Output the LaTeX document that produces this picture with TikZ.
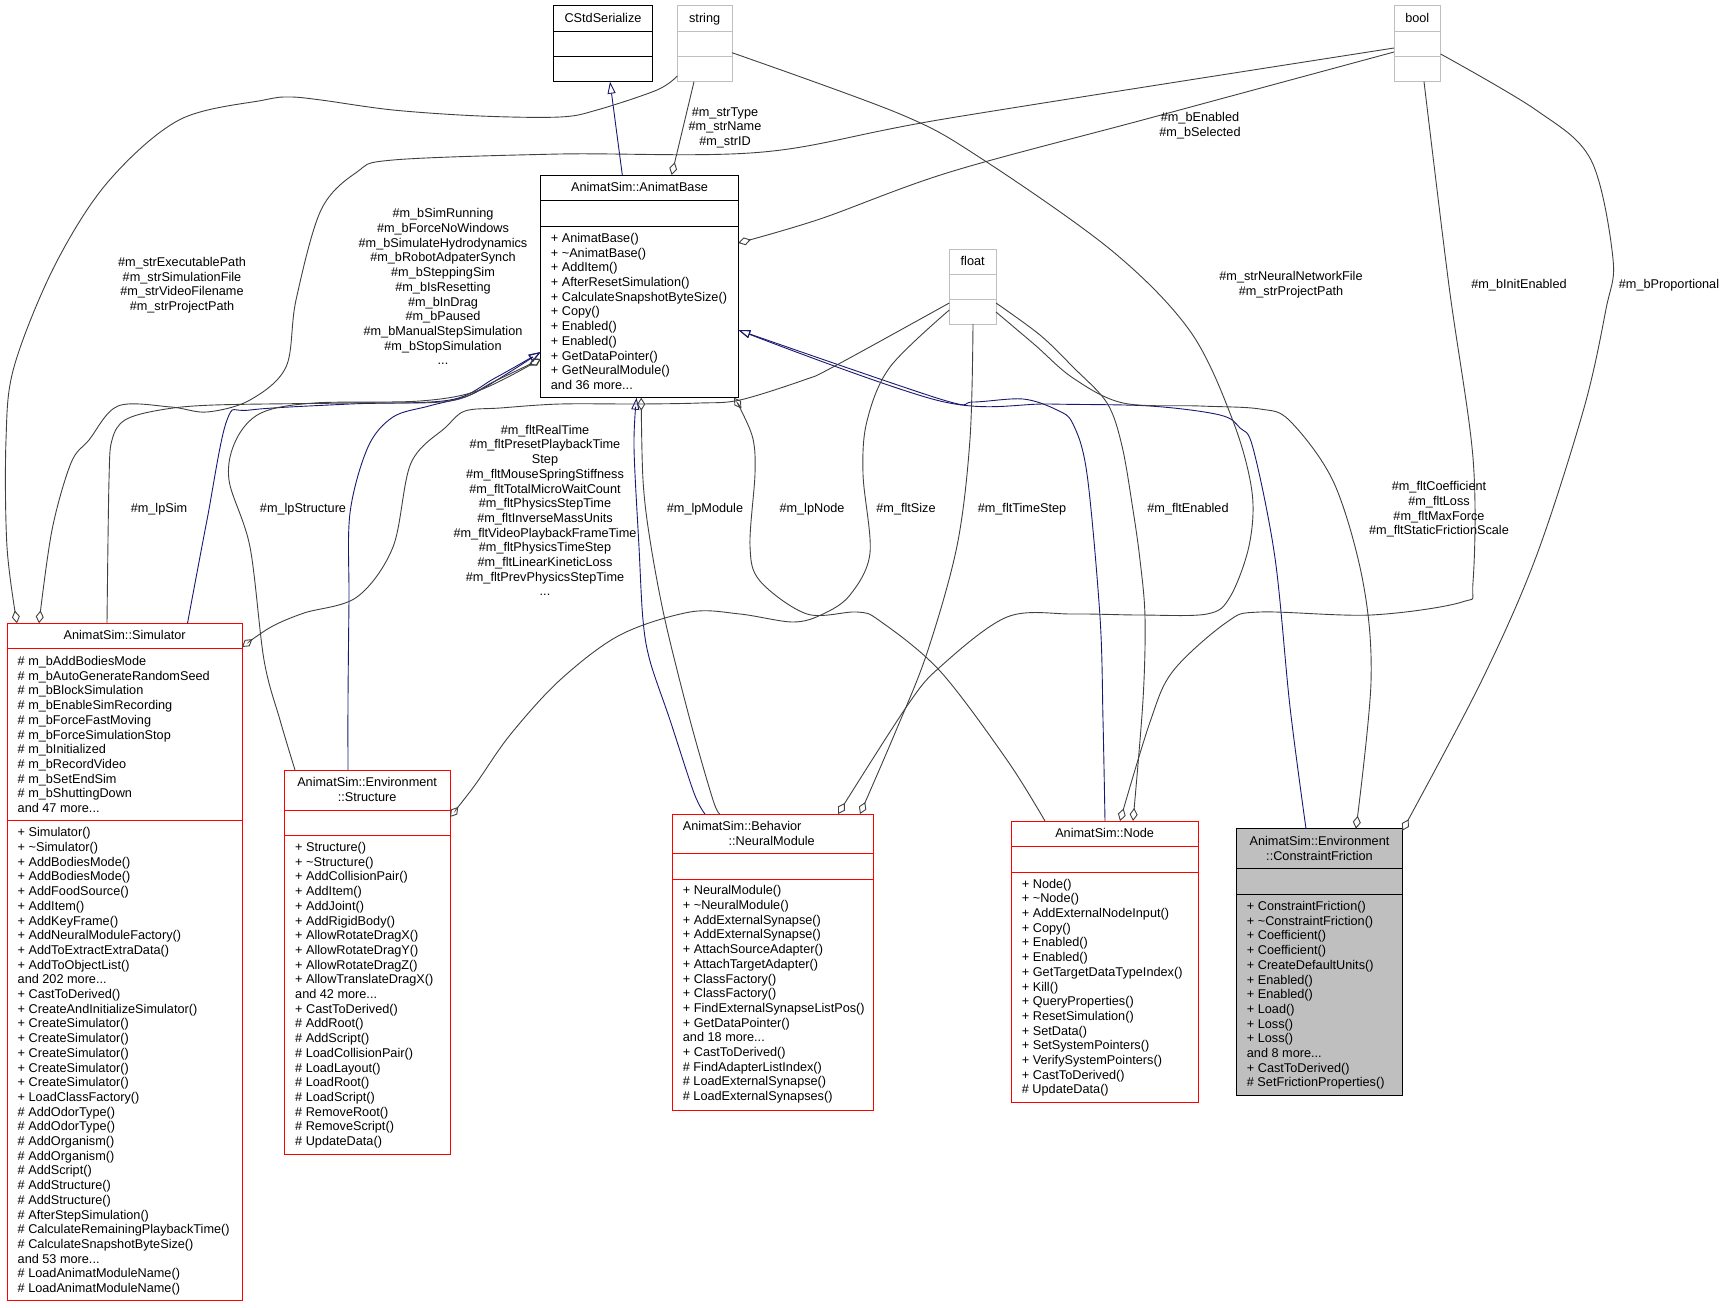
\documentclass[tikz,border=0pt]{standalone}
\usepackage{fontspec}
\setmainfont{Liberation Sans}
\usetikzlibrary{arrows.meta,calc}
\definecolor{edgegray}{HTML}{404040}
\definecolor{inhblue}{HTML}{191970}
\definecolor{boxgray}{HTML}{BFBFBF}
\definecolor{boxred}{HTML}{FF0000}
\newcommand{\dfont}{\fontsize{12.7}{14.7}\selectfont}
\begin{document}
\begin{tikzpicture}[x=1pt,y=-1pt,
  cbox/.style={draw=#1, line width=1pt, inner sep=0pt, outer sep=0pt, anchor=north west},
  sepl/.style={draw=#1, line width=1pt},
  txt/.style={anchor=north west, inner sep=0pt, align=left, font=\dfont},
  ttl/.style={anchor=north, inner sep=0pt, align=center, font=\dfont},
  lbl/.style={inner sep=0pt, align=center, font=\dfont},
  gedge/.style={draw=edgegray, line width=0.9pt, -{Diamond[open,length=13pt,width=8pt]}},
  bedge/.style={draw=inhblue, line width=0.9pt, -{Triangle[open,length=12pt,width=8pt]}}]
\useasboundingbox (0,0) rectangle (1727,1307);

% ---------- class boxes ----------
% CStdSerialize
\node[cbox=black, minimum width=99.4pt, minimum height=76pt] (CStd) at (553.3,5.7) {};
\draw[sepl=black] (553.3,31.7) -- (652.7,31.7) (553.3,56.7) -- (652.7,56.7);
\node[ttl] (CStdT) at (603,11.6) {\strut CStdSerialize};
% string
\node[cbox=boxgray, minimum width=54.7pt, minimum height=76pt] (nstring) at (677.3,5.7) {};
\draw[sepl=boxgray] (677.3,31.7) -- (732,31.7) (677.3,56.7) -- (732,56.7);
\node[ttl] (nstringT) at (704.65,11.6) {\strut string};
% bool
\node[cbox=boxgray, minimum width=46.6pt, minimum height=76pt] (nbool) at (1394,5.7) {};
\draw[sepl=boxgray] (1394,31.7) -- (1440.6,31.7) (1394,56.7) -- (1440.6,56.7);
\node[ttl] (nboolT) at (1417.3,11.6) {\strut bool};
% float
\node[cbox=boxgray, minimum width=46.7pt, minimum height=75pt] (nfloat) at (949.3,249) {};
\draw[sepl=boxgray] (949.3,274) -- (996,274) (949.3,299) -- (996,299);
\node[ttl] (nfloatT) at (972.65,255) {\strut float};

% AnimatBase
\node[cbox=black, minimum width=197.6pt, minimum height=222.7pt] (AB) at (540.7,175) {};
\draw[sepl=black] (540.7,200.7) -- (738.3,200.7) (540.7,226) -- (738.3,226);
\node[ttl] (ABT) at (639.5,181) {\strut AnimatSim::AnimatBase};
\node[txt] (ABm) at (550.7,232) {\strut + AnimatBase()\\+ \textasciitilde AnimatBase()\\+ AddItem()\\+ AfterResetSimulation()\\+ CalculateSnapshotByteSize()\\+ Copy()\\+ Enabled()\\+ Enabled()\\+ GetDataPointer()\\+ GetNeuralModule()\\and 36 more...};

% Simulator
\node[cbox=boxred, minimum width=234.7pt, minimum height=677.4pt] (Sim) at (7.3,623.3) {};
\draw[sepl=boxred] (7.3,648.3) -- (242,648.3) (7.3,820.7) -- (242,820.7);
\node[ttl] (SimT) at (124.65,628.6) {\strut AnimatSim::Simulator};
\node[txt] (SimA) at (17.5,655) {\strut \# m\_bAddBodiesMode\\\# m\_bAutoGenerateRandomSeed\\\# m\_bBlockSimulation\\\# m\_bEnableSimRecording\\\# m\_bForceFastMoving\\\# m\_bForceSimulationStop\\\# m\_bInitialized\\\# m\_bRecordVideo\\\# m\_bSetEndSim\\\# m\_bShuttingDown\\and 47 more...};
\node[txt] (SimM) at (17.5,826.3) {\strut + Simulator()\\+ \textasciitilde Simulator()\\+ AddBodiesMode()\\+ AddBodiesMode()\\+ AddFoodSource()\\+ AddItem()\\+ AddKeyFrame()\\+ AddNeuralModuleFactory()\\+ AddToExtractExtraData()\\+ AddToObjectList()\\and 202 more...\\+ CastToDerived()\\+ CreateAndInitializeSimulator()\\+ CreateSimulator()\\+ CreateSimulator()\\+ CreateSimulator()\\+ CreateSimulator()\\+ CreateSimulator()\\+ LoadClassFactory()\\\# AddOdorType()\\\# AddOdorType()\\\# AddOrganism()\\\# AddOrganism()\\\# AddScript()\\\# AddStructure()\\\# AddStructure()\\\# AfterStepSimulation()\\\# CalculateRemainingPlaybackTime()\\\# CalculateSnapshotByteSize()\\and 53 more...\\\# LoadAnimatModuleName()\\\# LoadAnimatModuleName()};

% Structure
\node[cbox=boxred, minimum width=165.7pt, minimum height=384pt] (Str) at (284.3,770) {};
\draw[sepl=boxred] (284.3,810) -- (450,810) (284.3,835.3) -- (450,835.3);
\node[ttl] (StrT) at (367.15,775.8) {\strut AnimatSim::Environment\\::Structure};
\node[txt] (StrM) at (295,841) {\strut + Structure()\\+ \textasciitilde Structure()\\+ AddCollisionPair()\\+ AddItem()\\+ AddJoint()\\+ AddRigidBody()\\+ AllowRotateDragX()\\+ AllowRotateDragY()\\+ AllowRotateDragZ()\\+ AllowTranslateDragX()\\and 42 more...\\+ CastToDerived()\\\# AddRoot()\\\# AddScript()\\\# LoadCollisionPair()\\\# LoadLayout()\\\# LoadRoot()\\\# LoadScript()\\\# RemoveRoot()\\\# RemoveScript()\\\# UpdateData()};

% NeuralModule
\node[cbox=boxred, minimum width=201.3pt, minimum height=296pt] (NM) at (672,814) {};
\draw[sepl=boxred] (672,853.3) -- (873.3,853.3) (672,879.3) -- (873.3,879.3);
\node[txt] (NMT1) at (682.7,820) {\strut AnimatSim::Behavior};
\node[ttl] (NMT2) at (771.7,834.6) {\strut ::NeuralModule};
\node[txt] (NMm) at (682.7,884.3) {\strut + NeuralModule()\\+ \textasciitilde NeuralModule()\\+ AddExternalSynapse()\\+ AddExternalSynapse()\\+ AttachSourceAdapter()\\+ AttachTargetAdapter()\\+ ClassFactory()\\+ ClassFactory()\\+ FindExternalSynapseListPos()\\+ GetDataPointer()\\and 18 more...\\+ CastToDerived()\\\# FindAdapterListIndex()\\\# LoadExternalSynapse()\\\# LoadExternalSynapses()};

% Node
\node[cbox=boxred, minimum width=187.3pt, minimum height=281.7pt] (Node) at (1011,821) {};
\draw[sepl=boxred] (1011,846.7) -- (1198.3,846.7) (1011,872) -- (1198.3,872);
\node[ttl] (NodeT) at (1104.65,827) {\strut AnimatSim::Node};
\node[txt] (Nodem) at (1021.7,877.6) {\strut + Node()\\+ \textasciitilde Node()\\+ AddExternalNodeInput()\\+ Copy()\\+ Enabled()\\+ Enabled()\\+ GetTargetDataTypeIndex()\\+ Kill()\\+ QueryProperties()\\+ ResetSimulation()\\+ SetData()\\+ SetSystemPointers()\\+ VerifySystemPointers()\\+ CastToDerived()\\\# UpdateData()};

% ConstraintFriction
\node[cbox=black, fill=boxgray, minimum width=165.6pt, minimum height=266.6pt] (CF) at (1236.7,828.7) {};
\draw[sepl=black] (1236.7,868.7) -- (1402.3,868.7) (1236.7,894.3) -- (1402.3,894.3);
\node[ttl] (CFT) at (1319.5,835) {\strut AnimatSim::Environment\\::ConstraintFriction};
\node[txt] (CFm) at (1246.7,900) {\strut + ConstraintFriction()\\+ \textasciitilde ConstraintFriction()\\+ Coefficient()\\+ Coefficient()\\+ CreateDefaultUnits()\\+ Enabled()\\+ Enabled()\\+ Load()\\+ Loss()\\+ Loss()\\and 8 more...\\+ CastToDerived()\\\# SetFrictionProperties()};

% ---------- attachment points ----------
\coordinate (abT1) at ($(AB.north west)+(81.6,0)$);
\coordinate (abT2) at ($(AB.north west)+(131,0)$);
\coordinate (abR1) at ($(AB.north east)+(0,68)$);
\coordinate (abR2) at ($(AB.north east)+(0,155)$);
\coordinate (abL1) at ($(AB.north west)+(0,177)$);
\coordinate (abL2) at ($(AB.north west)+(0,184)$);
\coordinate (abB1) at ($(AB.south west)+(95.9,0)$);
\coordinate (abB2) at ($(AB.south west)+(100.5,0)$);
\coordinate (abB3) at ($(AB.south west)+(193.3,0)$);
\coordinate (cstdB) at ($(CStd.south west)+(56.7,0)$);
\coordinate (strB) at ($(nstring.south west)+(16.7,0)$);
\coordinate (strL) at ($(nstring.north west)+(0,70.3)$);
\coordinate (strR) at ($(nstring.north east)+(0,47)$);
\coordinate (boolL1) at ($(nbool.north west)+(0,42.3)$);
\coordinate (boolL2) at ($(nbool.north west)+(0,46.3)$);
\coordinate (boolB) at ($(nbool.south west)+(30,0)$);
\coordinate (boolR) at ($(nbool.north east)+(0,48.3)$);
\coordinate (fltL1) at ($(nfloat.north west)+(0,54)$);
\coordinate (fltL2) at ($(nfloat.north west)+(0,61)$);
\coordinate (fltB) at ($(nfloat.south west)+(23.7,0)$);
\coordinate (fltR1) at ($(nfloat.north east)+(0,54)$);
\coordinate (fltR2) at ($(nfloat.north east)+(0,63)$);
\coordinate (simT1) at ($(Sim.north west)+(9.7,0)$);
\coordinate (simT2) at ($(Sim.north west)+(31.7,0)$);
\coordinate (simT3) at ($(Sim.north west)+(99.7,0)$);
\coordinate (simT4) at ($(Sim.north west)+(180.2,0)$);
\coordinate (simR) at ($(Sim.north east)+(0,23.7)$);
\coordinate (strT1) at ($(Str.north west)+(10.7,0)$);
\coordinate (strT2) at ($(Str.north west)+(63.7,0)$);
\coordinate (strRt) at ($(Str.north east)+(0,47)$);
\coordinate (nmT1) at ($(NM.north west)+(33,0)$);
\coordinate (nmT2) at ($(NM.north west)+(48,0)$);
\coordinate (nmT3) at ($(NM.north west)+(166,0)$);
\coordinate (nmT4) at ($(NM.north west)+(188,0)$);
\coordinate (ndT1) at ($(Node.north west)+(34,0)$);
\coordinate (ndT2) at ($(Node.north west)+(94,0)$);
\coordinate (ndT3) at ($(Node.north west)+(109,0)$);
\coordinate (ndT4) at ($(Node.north west)+(122,0)$);
\coordinate (cfT1) at ($(CF.north west)+(69.3,0)$);
\coordinate (cfT2) at ($(CF.north west)+(119.3,0)$);
\coordinate (cfR) at ($(CF.north east)+(0,2)$);

% ---------- inheritance edges ----------
\draw[bedge] (abT1) -- (cstdB);
\draw[bedge] plot[smooth,tension=0.55] coordinates {(simT4) (207,520) (227,420) (250,410) (350,404) (450,400) (495,378) (abL1)};
\draw[bedge] plot[smooth,tension=0.55] coordinates {(strT2) (348,700) (349,600) (350,513) (368,447) (393,417) (429,406) (470,395) (505,375) (abL1)};
\draw[bedge] plot[smooth,tension=0.55] coordinates {(nmT1) (694,793) (670,720) (650,661) (643,620) (639,547) (634,447) (abB1)};
\draw[bedge] plot[smooth,tension=0.55] coordinates {(ndT2) (1103,720) (1100,617) (1087,474) (1073,424) (1057,410) (1023,399) (973,402) (940,399) (abR2)};
\draw[bedge] plot[smooth,tension=0.55] coordinates {(cfT1) (1290,707) (1275,558) (1253,448) (1240,428) (1220,415) (1150,406) (1050,404) (940,401) (abR2)};

% ---------- collaboration edges ----------
\draw[gedge] (strB) -- (abT2);
\draw[gedge] plot[smooth,tension=0.55] coordinates {(strL) (657,90) (597,110) (560,117) (480,116) (393,110) (321,100) (290,97) (264,100) (179,120) (107,183) (54,267) (14,367) (6,440) (7,547) (simT1)};
\draw[gedge] plot[smooth,tension=0.55] coordinates {(boolL1) (950,118) (763,152) (560,154) (393,160) (357,172) (321,210) (296,300) (286,367) (250,400) (207,412) (171,407) (118,406) (89,440) (71,463) (52,530) (simT2)};
\draw[gedge] plot[smooth,tension=0.55] coordinates {(boolL2) (1150,118) (950,172) (820,219) (abR1)};
\draw[gedge] plot[smooth,tension=0.55] coordinates {(strR) (900,114) (979,157) (1111,250) (1190,331) (1233,421) (1252,492) (1249,546) (1230,597) (1207,614) (1140,615) (1073,614) (1007,617) (940,667) (907,706) (nmT3)};
\draw[gedge] plot[smooth,tension=0.55] coordinates {(fltL1) (833,367) (804,380) (740,400) (700,403) (639,404) (560,404) (500,408) (465,411) (446,427) (411,463) (393,547) (357,597) (304,613) (271,627) (simR)};
\draw[gedge] plot[smooth,tension=0.55] coordinates {(fltL2) (890,367) (867,421) (863,474) (870,553) (850,595) (823,614) (793,622) (740,614) (690,612) (620,635) (560,680) (510,735) (475,785) (strRt)};
\draw[gedge] plot[smooth,tension=0.55] coordinates {(fltB) (970,439) (957,546) (927,653) (895,733) (nmT4)};
\draw[gedge] plot[smooth,tension=0.55] coordinates {(fltR1) (1040,335) (1073,367) (1107,403) (1122,446) (1133,510) (1140,560) (1145,617) (1143,700) (ndT4)};
\draw[gedge] plot[smooth,tension=0.55] coordinates {(fltR2) (1035,345) (1073,378) (1123,403) (1200,406) (1260,409) (1290,421) (1334,483) (1363,582) (1371,682) (cfT2)};
\draw[gedge] plot[smooth,tension=0.55] coordinates {(boolB) (1449,286) (1473,458) (1473,582) (1462,602) (1371,615) (1260,612) (1227,622) (1173,671) (1150,722) (ndT3)};
\draw[gedge] plot[smooth,tension=0.55] coordinates {(boolR) (1536,110) (1591,160) (1613,259) (1606,309) (1584,408) (1536,557) (1481,682) (cfR)};
\draw[gedge] plot[smooth,tension=0.55] coordinates {(simT3) (109,480) (112,440) (125,420) (160,410) (214,405) (350,403) (450,401) (495,381) (abL2)};
\draw[gedge] plot[smooth,tension=0.55] coordinates {(strT1) (280,720) (264,660) (250,547) (229,480) (236,440) (261,413) (314,403) (420,401) (480,390) (abL2)};
\draw[gedge] plot[smooth,tension=0.55] coordinates {(nmT2) (713,800) (690,720) (665,620) (650,540) (643,480) (abB2)};
\draw[gedge] plot[smooth,tension=0.55] coordinates {(ndT1) (1007,760) (940,671) (880,621) (857,612) (807,614) (760,581) (750,546) (755,474) (753,439) (741,410) (abB3)};

% ---------- edge labels ----------
\node[lbl] (l1) at (725,127.7) {\#m\_strType\\\#m\_strName\\\#m\_strID};
\node[lbl] (l2) at (182,285.3) {\#m\_strExecutablePath\\\#m\_strSimulationFile\\\#m\_strVideoFilename\\\#m\_strProjectPath};
\node[lbl] (l3) at (443,286.7) {\#m\_bSimRunning\\\#m\_bForceNoWindows\\\#m\_bSimulateHydrodynamics\\\#m\_bRobotAdpaterSynch\\\#m\_bSteppingSim\\\#m\_bIsResetting\\\#m\_bInDrag\\\#m\_bPaused\\\#m\_bManualStepSimulation\\\#m\_bStopSimulation\\...};
\node[lbl] (l4) at (1200,126) {\#m\_bEnabled\\\#m\_bSelected};
\node[lbl] (l5) at (1291,285) {\#m\_strNeuralNetworkFile\\\#m\_strProjectPath};
\node[lbl] (l6) at (1519,285) {\#m\_bInitEnabled};
\node[lbl] (l7) at (1669,285) {\#m\_bProportional};
\node[lbl] (l8) at (545,510.5) {\#m\_fltRealTime\\\#m\_fltPresetPlaybackTime\hspace*{30pt}\\Step\\\#m\_fltMouseSpringStiffness\\\#m\_fltTotalMicroWaitCount\\\#m\_fltPhysicsStepTime\\\#m\_fltInverseMassUnits\\\#m\_fltVideoPlaybackFrameTime\\\#m\_fltPhysicsTimeStep\\\#m\_fltLinearKineticLoss\\\#m\_fltPrevPhysicsStepTime\\...};
\node[lbl] (l9) at (159,509.3) {\#m\_lpSim};
\node[lbl] (l10) at (303,509.3) {\#m\_lpStructure};
\node[lbl] (l11) at (705,509.3) {\#m\_lpModule};
\node[lbl] (l12) at (812,509.3) {\#m\_lpNode};
\node[lbl] (l13) at (906,509.3) {\#m\_fltSize};
\node[lbl] (l14) at (1022,509.3) {\#m\_fltTimeStep};
\node[lbl] (l15) at (1188,509.3) {\#m\_fltEnabled};
\node[lbl] (l16) at (1439,509.5) {\#m\_fltCoefficient\\\#m\_fltLoss\\\#m\_fltMaxForce\\\#m\_fltStaticFrictionScale};
\end{tikzpicture}
\end{document}
